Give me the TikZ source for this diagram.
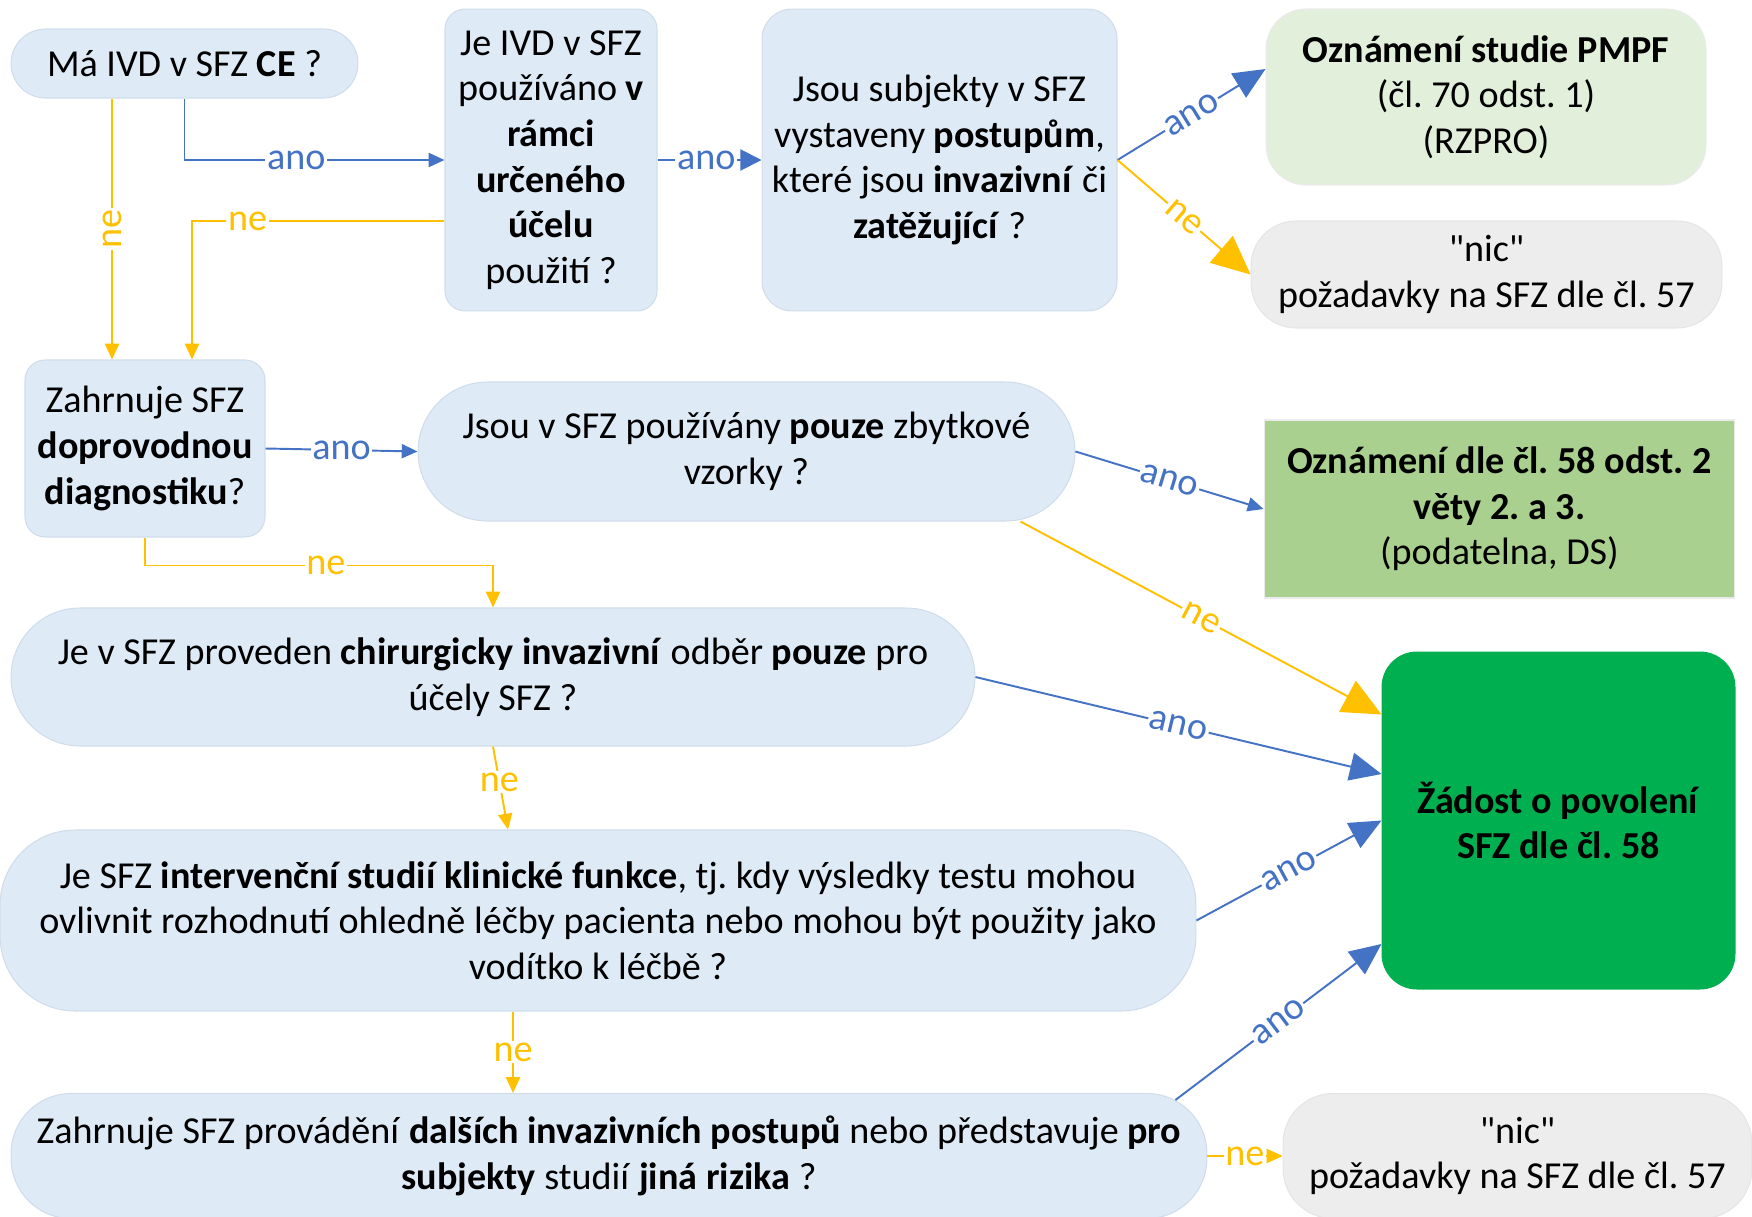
\documentclass[tikz,border=0pt]{standalone}
\usepackage{fontspec}
\setmainfont{Carlito}[Ligatures=TeXOff]
\usepackage{xcolor}
\usepackage{tikz}
\usetikzlibrary{arrows.meta, positioning}
\frenchspacing
\definecolor{qfill}{RGB}{222,235,247}
\definecolor{qline}{RGB}{208,220,234}
\definecolor{nicfill}{RGB}{237,237,237}
\definecolor{pmpffill}{RGB}{226,239,218}
\definecolor{oznfill}{RGB}{169,208,142}
\definecolor{zadfill}{RGB}{0,176,80}
\definecolor{anoblue}{RGB}{68,114,196}
\definecolor{neyellow}{RGB}{255,192,0}
\tikzstyle{qbox} = [draw=qline, fill=qfill, line width=0.6pt, align=center, inner sep=0pt]
\tikzstyle{nicbox} = [qbox, draw=black!10, fill=nicfill]
\tikzstyle{pmpfbox} = [qbox, draw=black!8, fill=pmpffill]
\tikzstyle{oznbox} = [qbox, draw=black!8, fill=oznfill]
\tikzstyle{zadbox} = [qbox, draw=zadfill, fill=zadfill]
\tikzstyle{ano-arrow} = [draw=anoblue, line width=1.1pt, -{Triangle[length=9pt,width=8pt]}]
\tikzstyle{ano-mid} = [ano-arrow, -{Triangle[length=12pt,width=12pt]}]
\tikzstyle{ano-big} = [ano-arrow, -{Triangle[length=18pt,width=16pt]}]
\tikzstyle{ne-arrow} = [draw=neyellow, line width=1.1pt, -{Triangle[length=9pt,width=8pt]}]
\tikzstyle{ne-big} = [ne-arrow, -{Triangle[length=22pt,width=20pt]}]
\tikzstyle{ano-label} = [fill=white, text=anoblue, inner sep=1pt]
\tikzstyle{ne-label} = [fill=white, text=neyellow, inner sep=1pt]

\begin{document}
\begin{tikzpicture}[x=0.02cm, y=-0.02cm, font=\fontsize{21.7}{26}\selectfont]
  \useasboundingbox (0,0) rectangle (1752,1217);

  % Nodes
  \node (ce) [qbox, minimum width=6.94cm, minimum height=1.38cm, rounded corners=0.69cm] at (184.5,63.5) {Má IVD v SFZ \textbf{CE} ?};
  \node (ucel) [qbox, minimum width=4.24cm, minimum height=6.04cm, rounded corners=0.4cm] at (551,160) {Je IVD v SFZ\\používáno \textbf{v}\\\textbf{rámci}\\\textbf{určeného}\\\textbf{účelu}\\použití ?};
  \node (postup) [qbox, minimum width=7.1cm, minimum height=6.04cm, rounded corners=0.6cm] at (939.5,160) {Jsou subjekty v SFZ\\vystaveny \textbf{postupům},\\které jsou \textbf{invazivní} či\\\textbf{zatěžující} ?};
  \node (pmpf) [pmpfbox, minimum width=8.8cm, minimum height=3.52cm, rounded corners=0.8cm] at (1486,97) {\textbf{Oznámení studie PMPF}\\(čl. 70 odst. 1)\\(RZPRO)};
  \node (nic1) [nicbox, minimum width=9.42cm, minimum height=2.14cm, rounded corners=0.9cm] at (1486.5,274.5) {"nic"\\požadavky na SFZ dle čl. 57};
  \node (dopr) [qbox, minimum width=4.8cm, minimum height=3.54cm, rounded corners=0.4cm] at (145,448.5) {Zahrnuje SFZ\\\textbf{doprovodnou}\\\textbf{diagnostiku}?};
  \node (zbyt) [qbox, minimum width=13.14cm, minimum height=2.78cm, rounded corners=1.39cm] at (746.5,451.5) {Jsou v SFZ používány \textbf{pouze} zbytkové\\vzorky ?};
  \node (ozn) [oznbox, minimum width=9.42cm, minimum height=3.56cm] at (1499.5,509) {\textbf{Oznámení dle čl. 58 odst. 2}\\\textbf{věty 2. a 3.}\\(podatelna, DS)};
  \node (zad) [zadbox, minimum width=7.06cm, minimum height=6.74cm, rounded corners=0.7cm] at (1558.5,820.5) {\textbf{Žádost o povolení}\\\textbf{SFZ dle čl. 58}};
  \node (chir) [qbox, minimum width=19.28cm, minimum height=2.76cm, rounded corners=1.38cm] at (493,677) {Je v SFZ proveden \textbf{chirurgicky invazivní} odběr \textbf{pouze} pro\\účely SFZ ?};
  \node (interv) [qbox, minimum width=23.92cm, minimum height=3.62cm, rounded corners=1.5cm] at (598,920.5) {Je SFZ \textbf{intervenční studií klinické funkce}, tj. kdy výsledky testu mohou\\ovlivnit rozhodnutí ohledně léčby pacienta nebo mohou být použity jako\\vodítko k léčbě ?};
  \node (rizika) [qbox, minimum width=23.92cm, minimum height=2.5cm, rounded corners=1.2cm] at (609,1156) {Zahrnuje SFZ provádění \textbf{dalších invazivních postupů} nebo představuje \textbf{pro}\\\textbf{subjekty} studií \textbf{jiná rizika} ?};
  \node (nic2) [nicbox, minimum width=9.38cm, minimum height=2.5cm, rounded corners=1.0cm] at (1517.5,1156) {"nic"\\požadavky na SFZ dle čl. 57};

  % Free ends
  \coordinate (ce-ne) at ([xshift=-1.45cm]ce.south);
  \coordinate (ucel-ne) at ([yshift=-1.22cm]ucel.west);
  \coordinate (dopr-in) at ([xshift=0.94cm]dopr.north);
  \coordinate (zbyt-ne) at ([xshift=-1.1cm]zbyt.south east);
  \coordinate (rizika-ano) at ([xshift=-0.64cm,yshift=-0.14cm]rizika.north east);

  % Arrows with labels
  \draw[ano-arrow] (ce.south) |- node[ano-label, pos=0.715] {ano} (ucel.west);
  \draw[ne-arrow] (ce-ne) -- node[ne-label, rotate=90] {ne} (ce-ne |- dopr.north);
  \draw[ne-arrow] (ucel-ne) -| node[ne-label, pos=0.39] {ne} (dopr-in);
  \draw[ano-mid] (ucel.east) -- node[ano-label, pos=0.47] {ano} (postup.west);
  \draw[ano-big] (postup.east) -- node[ano-label, sloped] {ano} ([yshift=0.56cm]pmpf.west);
  \draw[ne-big] (postup.east) -- node[ne-label, sloped] {ne} (nic1.west);
  \draw[ano-arrow] (dopr.east) -- node[ano-label] {ano} (zbyt.west);
  \draw[ne-arrow] (dopr.south) -- ++(0,28) -| node[ne-label, pos=0.26] {ne} (chir.north);
  \draw[ano-arrow] (zbyt.east) -- node[ano-label, sloped] {ano} (ozn.west);
  \draw[ne-big] (zbyt-ne) -- node[ne-label, sloped] {ne} ([yshift=-1.26cm]zad.north west);
  \draw[ano-big] (chir.east) -- node[ano-label, sloped] {ano} ([yshift=0.93cm]zad.west);
  \draw[ne-arrow] (chir.south) -- node[ne-label, pos=0.43] {ne} ([xshift=-1.8cm]interv.north);
  \draw[ano-big] (interv.east) -- node[ano-label, sloped] {ano} (zad.west);
  \draw[ne-arrow] ([xshift=-1.7cm]interv.south) -- node[ne-label] {ne} ([xshift=-1.7cm]interv.south |- rizika.north);
  \draw[ano-big] (rizika-ano) -- node[ano-label, sloped] {ano} ([yshift=-2.47cm]zad.west);
  \draw[ne-arrow] (rizika.east) -- node[ne-label] {ne} (nic2.west);

\end{tikzpicture}
\end{document}
